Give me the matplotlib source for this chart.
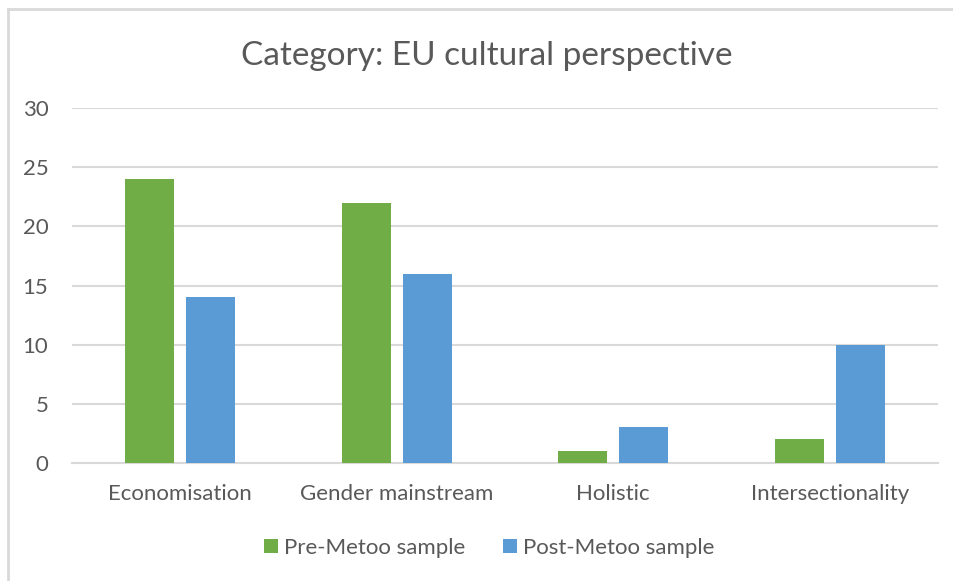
import numpy as np
import matplotlib.pyplot as plt
from matplotlib.lines import Line2D

# Counts per category, before and after MeToo
categories = ["Economisation", "Gender mainstream", "Holistic", "Intersectionality"]
pre_metoo = [24, 22, 1, 2]
post_metoo = [14, 16, 3, 10]
yticks = [0, 5, 10, 15, 20, 25, 30]

plt.rcParams['font.family'] = ['Lato', 'DejaVu Sans']
text_col = '#595959'
grid_col = '#D9D9D9'

fig = plt.figure(figsize=(9.54, 5.81), dpi=100)
ax = fig.add_axes([0.0755, 0.2031, 0.9077, 0.6110])

x = np.arange(len(categories))
w = 0.226
gap = 0.055
ax.bar(x - (w + gap) / 2, pre_metoo, w, color='#70AD47', label='Pre-Metoo sample', zorder=3)
ax.bar(x + (w + gap) / 2, post_metoo, w, color='#5B9BD5', label='Post-Metoo sample', zorder=3)

ax.set_xlim(-0.5, len(categories) - 0.5)
ax.set_ylim(0, 30)
ax.set_yticks(yticks)
ax.set_xticks(x)
ax.set_xticklabels(categories)
ax.yaxis.grid(True, color=grid_col, linewidth=1.5, zorder=0)
for side in ['top', 'right', 'left']:
    ax.spines[side].set_visible(False)
ax.spines['bottom'].set_color(grid_col)
ax.spines['bottom'].set_linewidth(1.5)
ax.tick_params(axis='both', length=0, labelsize=16, colors=text_col)
ax.tick_params(axis='y', pad=17)
ax.tick_params(axis='x', pad=15)

fig.text(0.5105, 0.903, 'Category: EU cultural perspective', ha='center', va='center',
         fontsize=24, color=text_col)

leg = fig.legend(loc='center', bbox_to_anchor=(0.513, 0.057), ncol=2, frameon=False,
                 fontsize=16, handlelength=0.6, handleheight=0.6, columnspacing=1.7,
                 handletextpad=0.3)
for t in leg.get_texts():
    t.set_color(text_col)

# chart frame: left and top edges only
fig.add_artist(Line2D([8 / 954, 8 / 954], [0, 1 - 9 / 581], transform=fig.transFigure,
                      color=grid_col, linewidth=2))
fig.add_artist(Line2D([8 / 954, 1], [1 - 9 / 581, 1 - 9 / 581], transform=fig.transFigure,
                      color=grid_col, linewidth=2))

fig.savefig('out.png', dpi=100)
